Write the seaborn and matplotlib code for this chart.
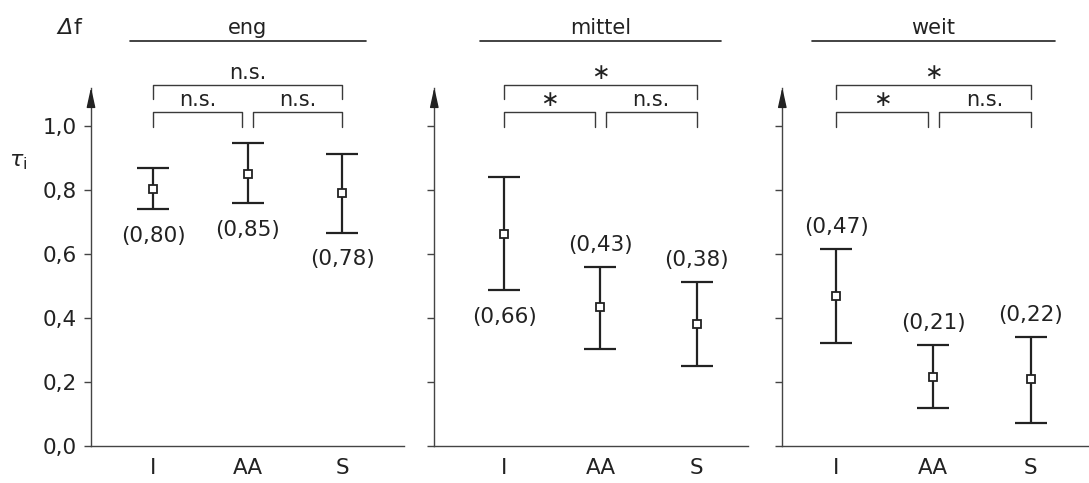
import numpy as np
import matplotlib
matplotlib.use("Agg")
import matplotlib.pyplot as plt
import seaborn as sns

# data
groups = ["eng", "mittel", "weit"]
cats = ["I", "AA", "S"]
tau_eng = [0.802, 0.851, 0.789]
lo_eng = [0.739, 0.758, 0.667]
hi_eng = [0.869, 0.947, 0.912]
tau_mittel = [0.662, 0.435, 0.381]
lo_mittel = [0.486, 0.304, 0.251]
hi_mittel = [0.841, 0.560, 0.513]
tau_weit = [0.468, 0.216, 0.208]
lo_weit = [0.323, 0.118, 0.073]
hi_weit = [0.616, 0.314, 0.341]
labels_eng = ["(0,80)", "(0,85)", "(0,78)"]
labels_mittel = ["(0,66)", "(0,43)", "(0,38)"]
labels_weit = ["(0,47)", "(0,21)", "(0,22)"]
# significance: [I vs AA, AA vs S, I vs S]
sig_eng = ["n.s.", "n.s.", "n.s."]
sig_mittel = ["∗", "n.s.", "∗"]
sig_weit = ["∗", "n.s.", "∗"]
yticks = [0.0, 0.2, 0.4, 0.6, 0.8, 1.0]
ytick_labels = ["0,0", "0,2", "0,4", "0,6", "0,8", "1,0"]

panels = [
    (tau_eng, lo_eng, hi_eng, labels_eng, sig_eng, ["below", "below", "below"]),
    (tau_mittel, lo_mittel, hi_mittel, labels_mittel, sig_mittel, ["below", "above", "above"]),
    (tau_weit, lo_weit, hi_weit, labels_weit, sig_weit, ["above", "above", "above"]),
]

sns.set_theme(style="ticks")
plt.rcParams["font.family"] = ["DejaVu Sans"]
plt.rcParams["mathtext.fontset"] = "dejavusans"

ink = "#222222"
axis_col = "#444444"
fs = 15

fig = plt.figure(figsize=(10.89, 4.83), dpi=100)
W, H = 1089, 483
boxes = [(91, 313.3), (434.3, 313.7), (782.3, 306.7)]
xlims = [(-0.658, 2.657), (-0.728, 2.535), (-0.552, 2.60)]
y0, ytop = 446, 87.5

for i, (name, (tau, lo, hi, labs, sig, where)) in enumerate(zip(groups, panels)):
    left, width = boxes[i]
    ax = fig.add_axes([left / W, (H - y0) / H, width / W, (y0 - ytop) / H])
    x = np.arange(len(cats))
    yerr = [np.array(tau) - np.array(lo), np.array(hi) - np.array(tau)]
    ax.errorbar(x, tau, yerr=yerr, fmt="none", ecolor=ink, elinewidth=1.6,
                capsize=11.5, capthick=1.6, zorder=2)
    sns.pointplot(x=cats, y=tau, ax=ax, linestyle="none", marker="s",
                  color=ink, markersize=6, markerfacecolor="white",
                  markeredgewidth=1.3, errorbar=None, zorder=3)

    for xi, t, l, h, lab, w in zip(x, tau, lo, hi, labs, where):
        if w == "below":
            ax.annotate(lab, (xi, l), xytext=(0, -19), textcoords="offset points",
                        ha="center", va="center", fontsize=fs + 0.5, color=ink)
        else:
            ax.annotate(lab, (xi, h), xytext=(0, 16), textcoords="offset points",
                        ha="center", va="center", fontsize=fs + 0.5, color=ink)

    ax.set_xlim(*xlims[i])
    ax.set_ylim(0, 1.12)
    ax.set_yticks(yticks)
    if i == 0:
        ax.set_yticklabels(ytick_labels, fontsize=fs + 0.5, color=ink)
    else:
        ax.set_yticklabels([])
    ax.tick_params(axis="y", length=5, width=1.0, color=axis_col, pad=5)
    ax.tick_params(axis="x", length=0, pad=9, labelsize=fs + 0.5, labelcolor=ink)
    ax.set_xlabel("")
    ax.set_ylabel("")
    sns.despine(ax=ax)
    for sp in ["left", "bottom"]:
        ax.spines[sp].set_color(axis_col)
        ax.spines[sp].set_linewidth(1.0)
    ax.annotate("", xy=(0, 1.0), xytext=(0, 0.95), xycoords="axes fraction",
                arrowprops=dict(arrowstyle="-|>,head_length=1.0,head_width=0.22",
                                color="#222222", lw=1.0, shrinkA=0, shrinkB=0))

    # significance brackets
    bk = dict(color="#3a3a3a", lw=1.0, clip_on=False)
    gap = 0.055
    ax.plot([0, 0, 1 - gap, 1 - gap], [0.997, 1.042, 1.042, 0.997], **bk)
    ax.plot([1 + gap, 1 + gap, 2, 2], [0.997, 1.042, 1.042, 0.997], **bk)
    ax.plot([0, 0, 2, 2], [1.083, 1.127, 1.127, 1.083], **bk)
    for xt, yt, s in [(0.5 - gap / 2, 1.08, sig[0]), (1.5 + gap / 2, 1.08, sig[1]),
                      (1.0, 1.165, sig[2])]:
        ax.text(xt, yt, s, ha="center", va="center", clip_on=False,
                fontsize=fs + 1 if s == "∗" else fs, color=ink)

    # group header
    ax.plot([-0.25, 2.25], [1.264, 1.264], color=ink, lw=1.2, clip_on=False)
    ax.text(1.0, 1.288, name, ha="center", va="baseline", fontsize=fs, color=ink)

fig.text(73 / W, 1 - 34 / H, "Δ", ha="right", va="baseline", style="italic",
         fontsize=fs + 1, color=ink)
fig.text(73 / W, 1 - 34 / H, "f", ha="left", va="baseline",
         fontsize=fs + 1, color=ink)
fig.text(18 / W, 1 - 162 / H, r"$\tau_\mathrm{i}$", ha="center", va="center",
         fontsize=fs + 1, color=ink)

fig.savefig("out.png", dpi=100)
